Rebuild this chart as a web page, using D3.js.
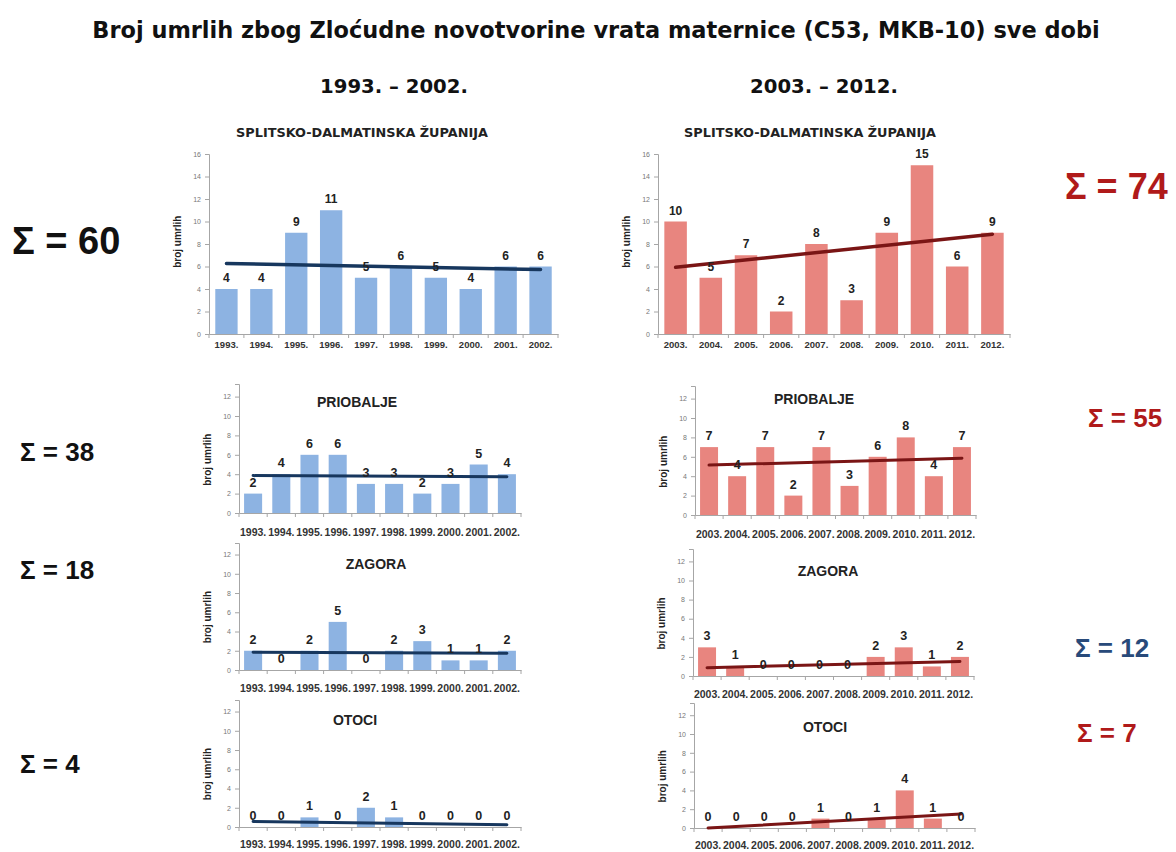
<!DOCTYPE html>
<html>
<head>
<meta charset="utf-8">
<script src="https://cdnjs.cloudflare.com/ajax/libs/d3/7.8.5/d3.min.js"></script>
<style>
  body { margin: 0; background: #fff; }
  text { font-family: "Liberation Sans", Arial, sans-serif; }
</style>
</head>
<body>
<div id="chart"></div>
<script>
// Broj umrlih - C53, dva desetljeca

var width = 1176
var height = 852

// data
var yearsA = ["1993.", "1994.", "1995.", "1996.", "1997.", "1998.", "1999.", "2000.", "2001.", "2002."]
var yearsB = ["2003.", "2004.", "2005.", "2006.", "2007.", "2008.", "2009.", "2010.", "2011.", "2012."]
var sdzA = [4, 4, 9, 11, 5, 6, 5, 4, 6, 6]
var sdzB = [10, 5, 7, 2, 8, 3, 9, 15, 6, 9]
var priobaljeA = [2, 4, 6, 6, 3, 3, 2, 3, 5, 4]
var priobaljeB = [7, 4, 7, 2, 7, 3, 6, 8, 4, 7]
var zagoraA = [2, 0, 2, 5, 0, 2, 3, 1, 1, 2]
var zagoraB = [3, 1, 0, 0, 0, 0, 2, 3, 1, 2]
var otociA = [0, 0, 1, 0, 2, 1, 0, 0, 0, 0]
var otociB = [0, 0, 0, 0, 1, 0, 1, 4, 1, 0]
var yTicksBig = [0, 2, 4, 6, 8, 10, 12, 14, 16]
var yTicksSmall = [0, 2, 4, 6, 8, 10, 12]

var mainTitle = "Broj umrlih zbog Zloćudne novotvorine vrata maternice (C53, MKB-10) sve dobi"
var periodA = "1993. – 2002."
var periodB = "2003. – 2012."

var blueBar = "#8db3e2", blueLine = "#17375e"
var redBar = "#e8857f", redLine = "#7a1515"
var wide = "'DejaVu Sans', Verdana, sans-serif"

var svg = d3.select("#chart")
  .append("svg")
    .attr("width", width)
    .attr("height", height)

// shrink / grow a text so it takes the given width
function fitText(sel, w) {
  var cur = sel.node().getComputedTextLength()
  var fs = parseFloat(sel.style("font-size"))
  sel.style("font-size", (fs * w / cur) + "px")
}

var t = svg.append("text")
  .attr("x", 596).attr("y", 38)
  .attr("text-anchor", "middle")
  .style("font-family", wide)
  .style("font-size", "21px").style("font-weight", "bold").style("fill", "#111")
  .text(mainTitle)
fitText(t, 1008)

var pa = svg.append("text").attr("x", 394).attr("y", 93).attr("text-anchor", "middle")
  .style("font-family", wide)
  .style("font-size", "19px").style("font-weight", "bold").style("fill", "#111").text(periodA)
fitText(pa, 148)
var pb = svg.append("text").attr("x", 824).attr("y", 93).attr("text-anchor", "middle")
  .style("font-family", wide)
  .style("font-size", "19px").style("font-weight", "bold").style("fill", "#111").text(periodB)
fitText(pb, 148)

// panel layout (positions only)
var panels = [
  {title: "SPLITSKO-DALMATINSKA ŽUPANIJA", values: sdzA, years: yearsA, x0: 209, x1: 558, y0: 334, yTop: 154, max: 16, ticks: yTicksBig, tx: 362, ty: 137, tw: 252, lab: 15, big: true,
   sum: {x: 12, y: 254, size: 38, color: "#111"}},
  {title: "SPLITSKO-DALMATINSKA ŽUPANIJA", values: sdzB, years: yearsB, x0: 658, x1: 1010, y0: 334, yTop: 154, max: 16, ticks: yTicksBig, tx: 810, ty: 137, tw: 252, lab: 15, big: true, red: true,
   sum: {x: 1065, y: 199, size: 36, color: "#b01a1a"}},
  {title: "PRIOBALJE", values: priobaljeA, years: yearsA, x0: 239, x1: 521, y0: 513, yTop: 384, max: 13.3, ticks: yTicksSmall, tx: 357, ty: 407, tsize: 14, lab: 24,
   sum: {x: 20, y: 461, size: 26, color: "#111"}},
  {title: "PRIOBALJE", values: priobaljeB, years: yearsB, x0: 695, x1: 976, y0: 515, yTop: 386, max: 13.3, ticks: yTicksSmall, tx: 814, ty: 404, tsize: 14, lab: 24, red: true,
   sum: {x: 1088, y: 427, size: 26, color: "#b01a1a"}},
  {title: "ZAGORA", values: zagoraA, years: yearsA, x0: 239, x1: 521, y0: 670, yTop: 543, max: 13.2, ticks: yTicksSmall, tx: 376, ty: 569, tsize: 14, lab: 23,
   sum: {x: 20, y: 579, size: 26, color: "#111"}},
  {title: "ZAGORA", values: zagoraB, years: yearsB, x0: 693, x1: 974, y0: 676, yTop: 549, max: 13.3, ticks: yTicksSmall, tx: 828, ty: 576, tsize: 14, lab: 23, red: true,
   sum: {x: 1075, y: 657, size: 26, color: "#284a7a"}},
  {title: "OTOCI", values: otociA, years: yearsA, x0: 239, x1: 521, y0: 827, yTop: 700, max: 13.2, ticks: yTicksSmall, tx: 355, ty: 725, tsize: 14, lab: 22,
   sum: {x: 20, y: 773, size: 26, color: "#111"}},
  {title: "OTOCI", values: otociB, years: yearsB, x0: 694, x1: 975, y0: 828, yTop: 703, max: 13.3, ticks: yTicksSmall, tx: 825, ty: 732, tsize: 14, lab: 22, red: true,
   sum: {x: 1077, y: 742, size: 26, color: "#b01a1a"}}
]

panels.forEach(drawPanel)

function drawPanel(p) {
  var g = svg.append("g")
  var data = p.years.map(function(d, i) { return {year: d, value: p.values[i], i: i} })

  var x = d3.scaleBand()
    .domain(p.years)
    .range([p.x0, p.x1])
    .paddingInner(0.36)
    .paddingOuter(0.18)
  var y = d3.scaleLinear()
    .domain([0, p.max])
    .range([p.y0, p.yTop])

  // y axis
  var yAxis = d3.axisLeft(y).tickValues(p.ticks).tickSize(4).tickPadding(4)
  var ya = g.append("g").attr("transform", "translate(" + p.x0 + ",0)").call(yAxis)
  ya.select(".domain").attr("stroke", "#a6a6a6")
  ya.selectAll(".tick line").attr("stroke", "#a6a6a6")
  ya.selectAll(".tick text").style("font-size", "7px").style("fill", "#777")
    .style("font-family", "Liberation Sans, Arial, sans-serif")

  // x axis
  var xAxis = d3.axisBottom(x).tickSize(0).tickPadding(p.lab - 8)
  var xa = g.append("g").attr("transform", "translate(0," + p.y0 + ")").call(xAxis)
  xa.select(".domain").attr("stroke", "#a6a6a6")
  xa.selectAll(".tick text")
    .style("font-size", p.big ? "9.5px" : "10.5px").style("font-weight", "bold").style("fill", "#333")
    .style("font-family", "Liberation Sans, Arial, sans-serif")
  // small ticks at band boundaries
  g.selectAll(".btick")
    .data(d3.range(p.years.length + 1))
    .enter().append("line")
      .attr("x1", function(d) { return p.x0 + d * x.step() })
      .attr("x2", function(d) { return p.x0 + d * x.step() })
      .attr("y1", p.y0).attr("y2", p.y0 + 4)
      .attr("stroke", "#a6a6a6")

  // bars
  g.selectAll(".bar")
    .data(data)
    .enter().append("rect")
      .attr("x", function(d) { return x(d.year) })
      .attr("y", function(d) { return y(d.value) })
      .attr("width", x.bandwidth())
      .attr("height", function(d) { return p.y0 - y(d.value) })
      .style("fill", p.red ? redBar : blueBar)

  // linear trend (least squares)
  var n = data.length
  var mx = d3.mean(data, function(d) { return d.i })
  var my = d3.mean(data, function(d) { return d.value })
  var sxy = d3.sum(data, function(d) { return (d.i - mx) * (d.value - my) })
  var sxx = d3.sum(data, function(d) { return (d.i - mx) * (d.i - mx) })
  var slope = sxy / sxx
  var icpt = my - slope * mx
  var tr = [data[0], data[n - 1]]
  g.append("line")
    .attr("x1", x(tr[0].year) + x.bandwidth() / 2)
    .attr("x2", x(tr[1].year) + x.bandwidth() / 2)
    .attr("y1", y(Math.max(0, icpt + slope * tr[0].i)))
    .attr("y2", y(icpt + slope * tr[1].i))
    .attr("stroke", p.red ? redLine : blueLine)
    .attr("stroke-width", p.big ? 3.5 : 3)
    .attr("stroke-linecap", "round")

  // value labels
  g.selectAll(".lbl")
    .data(data)
    .enter().append("text")
      .attr("x", function(d) { return x(d.year) + x.bandwidth() / 2 })
      .attr("y", function(d) { return y(d.value) - 7 })
      .attr("text-anchor", "middle")
      .style("font-size", p.big ? "12px" : "12.5px").style("font-weight", "bold").style("fill", "#222")
      .text(function(d) { return d.value })

  // chart title
  var ct = g.append("text")
    .attr("x", p.tx).attr("y", p.ty)
    .attr("text-anchor", "middle")
    .style("font-size", (p.tsize || 12) + "px").style("font-weight", "bold").style("fill", "#222")
    .text(p.title)
  if (p.tw) { ct.style("font-family", wide); fitText(ct, p.tw) }

  // y axis title
  var yc = p.big ? y(8.2) : y(5.5)
  g.append("text")
    .attr("transform", "translate(" + (p.x0 - 28) + "," + yc + ") rotate(-90)")
    .attr("text-anchor", "middle")
    .style("font-size", "10px").style("font-weight", "bold").style("fill", "#222")
    .text("broj umrlih")

  // sum label
  svg.append("text")
    .attr("x", p.sum.x).attr("y", p.sum.y)
    .style("font-size", p.sum.size + "px").style("font-weight", "bold").style("fill", p.sum.color)
    .text("Σ = " + d3.sum(p.values))
}
</script>
</body>
</html>
